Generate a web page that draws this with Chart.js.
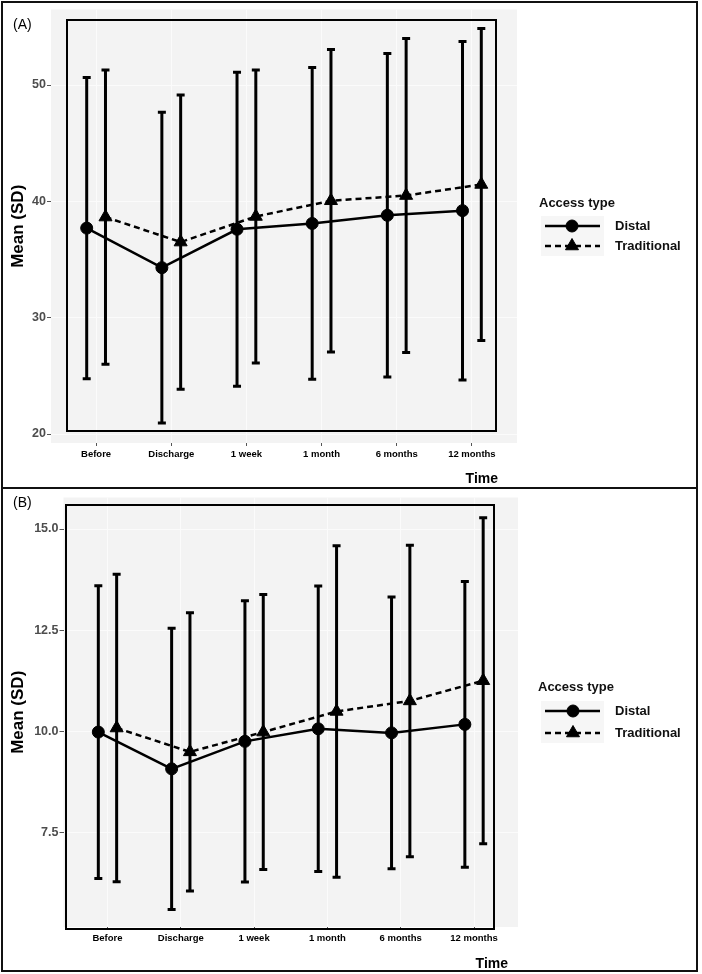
<!DOCTYPE html>
<html>
<head>
<meta charset="utf-8">
<title>Access type - mean (SD) over time</title>
<script src="https://cdn.jsdelivr.net/npm/chart.js@4"></script>
<style>
  html, body { margin: 0; padding: 0; background: #fff; }
  #page { position: relative; width: 702px; height: 974px; overflow: hidden; }
  .panel { position: absolute; left: 0; width: 702px; }
  .frame { position: absolute; box-sizing: border-box; border: 2px solid #111; pointer-events: none; }
</style>
</head>
<body>
<div id="page">
  <div class="panel" style="top:0;height:489px"><canvas id="chartA" width="702" height="489"></canvas></div>
  <div class="panel" style="top:489px;height:485px"><canvas id="chartB" width="702" height="485"></canvas></div>
  <div class="frame" style="left:1px;top:1px;width:697px;height:488px"></div>
  <div class="frame" style="left:1px;top:487px;width:697px;height:485px"></div>
</div>

<script>
// x categories
const timePoints = ['Before', 'Discharge', '1 week', '1 month', '6 months', '12 months'];
const seriesNames = ['Distal', 'Traditional'];
const legendTitle = 'Access type';

// Panel A: mean and SD per time point
const distalMeanA = [37.7, 34.3, 37.6, 38.1, 38.8, 39.2];
const distalSdA   = [12.95, 13.35, 13.5, 13.4, 13.9, 14.55];
const tradMeanA   = [38.65, 36.5, 38.7, 40.05, 40.5, 41.45];
const tradSdA     = [12.65, 12.65, 12.6, 13.0, 13.5, 13.4];
const yTicksA     = [20, 30, 40, 50];

// Panel B
const distalMeanB = [9.98, 9.07, 9.75, 10.06, 9.96, 10.17];
const distalSdB   = [3.62, 3.48, 3.48, 3.53, 3.36, 3.53];
const tradMeanB   = [10.08, 9.49, 9.98, 10.49, 10.75, 11.25];
const tradSdB     = [3.8, 3.44, 3.4, 4.1, 3.85, 4.03];
const yTicksB     = [7.5, 10.0, 12.5, 15.0];

const dodge = 0.125;
const FONT = '"Liberation Sans", Arial, sans-serif';

function drawKey(ctx, x0, x1, xm, y, dashed, style, r) {
  ctx.save();
  ctx.strokeStyle = '#000';
  ctx.fillStyle = '#000';
  ctx.lineWidth = 2.5;
  if (dashed) ctx.setLineDash([6, 4]);
  ctx.beginPath();
  ctx.moveTo(x0, y);
  ctx.lineTo(x1, y);
  ctx.stroke();
  ctx.setLineDash([]);
  ctx.lineWidth = 1;
  Chart.helpers.drawPoint(ctx, { pointStyle: style, radius: r, borderWidth: 1, rotation: 0 }, xm, y);
  ctx.restore();
}

// grey panel, inner black frame, error bars, labels and legend
const panelPlugin = {
  id: 'panel',
  beforeDraw(chart, args, o) {
    const { ctx, chartArea: a } = chart;
    ctx.save();
    ctx.fillStyle = '#f3f3f3';
    ctx.fillRect(a.left, a.top, a.right - a.left, a.bottom - a.top);
    ctx.restore();
  },
  beforeDatasetsDraw(chart, args, o) {
    const { ctx } = chart;
    const xs = chart.scales.x, ys = chart.scales.y;
    ctx.save();
    ctx.strokeStyle = '#000';
    ctx.lineWidth = 2;
    ctx.strokeRect(o.box[0], o.box[1], o.box[2] - o.box[0], o.box[3] - o.box[1]);

    // error bars: mean +/- SD
    chart.data.datasets.forEach(ds => {
      ds.data.forEach((p, j) => {
        const x = xs.getPixelForValue(p.x);
        const hi = ys.getPixelForValue(p.y + ds.sd[j]);
        const lo = ys.getPixelForValue(p.y - ds.sd[j]);
        ctx.lineWidth = 3;
        ctx.beginPath();
        ctx.moveTo(x, hi);
        ctx.lineTo(x, lo);
        ctx.stroke();
        ctx.lineWidth = 3;
        ctx.beginPath();
        ctx.moveTo(x - 4, hi); ctx.lineTo(x + 4, hi);
        ctx.moveTo(x - 4, lo); ctx.lineTo(x + 4, lo);
        ctx.stroke();
      });
    });
    ctx.restore();
  },
  afterDraw(chart, args, o) {
    const { ctx } = chart;
    ctx.save();
    ctx.fillStyle = '#000';
    ctx.textBaseline = 'middle';

    // panel tag
    ctx.font = '14px ' + FONT;
    ctx.textAlign = 'left';
    ctx.fillText(o.tag, 13, o.tagY);

    // x axis title
    ctx.font = 'bold 14px ' + FONT;
    ctx.textAlign = 'right';
    ctx.fillText('Time', o.timeRight, o.timeY);

    // legend
    const L = o.legend;
    ctx.fillStyle = '#f6f6f6';
    ctx.fillRect(L.x0 - 4, L.rows[0] - 10, L.x1 - L.x0 + 8, L.rows[1] - L.rows[0] + 20);
    ctx.fillStyle = '#111';
    ctx.font = 'bold 13px ' + FONT;
    ctx.textAlign = 'left';
    ctx.fillText(legendTitle, L.titleX, L.titleY);
    drawKey(ctx, L.x0, L.x1, L.xm, L.rows[0], false, 'circle', 6);
    drawKey(ctx, L.x0, L.x1, L.xm, L.rows[1], true, 'triangle', 7.5);
    ctx.fillStyle = '#111';
    ctx.font = 'bold 13px ' + FONT;
    ctx.fillText(seriesNames[0], L.textX, L.rows[0]);
    ctx.fillText(seriesNames[1], L.textX, L.rows[1]);
    ctx.restore();
  }
};

function makeChart(id, cfg) {
  const datasets = [
    {
      label: seriesNames[0],
      data: timePoints.map((t, i) => ({ x: i + 1 - dodge, y: cfg.distalMean[i] })),
      sd: cfg.distalSd,
      borderColor: '#000',
      borderWidth: 2.5,
      pointStyle: 'circle',
      pointRadius: 6,
      pointBackgroundColor: '#000',
      pointBorderColor: '#000',
      pointBorderWidth: 1,
      fill: false,
      tension: 0
    },
    {
      label: seriesNames[1],
      data: timePoints.map((t, i) => ({ x: i + 1 + dodge, y: cfg.tradMean[i] })),
      sd: cfg.tradSd,
      borderColor: '#000',
      borderWidth: 2.5,
      borderDash: [6, 4],
      pointStyle: 'triangle',
      pointRadius: 7.5,
      pointBackgroundColor: '#000',
      pointBorderColor: '#000',
      pointBorderWidth: 1,
      fill: false,
      tension: 0
    }
  ];

  return new Chart(document.getElementById(id), {
    type: 'line',
    data: { datasets },
    plugins: [panelPlugin],
    options: {
      responsive: false,
      animation: false,
      layout: { padding: { top: cfg.padTop, right: cfg.padRight, bottom: 0, left: 0 } },
      plugins: {
        legend: { display: false },
        tooltip: { enabled: false },
        panel: cfg.panel
      },
      scales: {
        x: {
          type: 'linear',
          min: 0.4,
          max: 6.6,
          afterBuildTicks: s => { s.ticks = timePoints.map((t, i) => ({ value: i + 1 })); },
          afterFit: s => { s.height = cfg.xAxisHeight; },
          border: { display: false },
          grid: { color: '#fbfbfb', lineWidth: 1, tickLength: 3, tickColor: '#555' },
          ticks: {
            autoSkip: false,
            maxRotation: 0,
            padding: 3,
            color: '#000',
            font: { family: FONT, size: 9.5, weight: 'bold' },
            callback: v => timePoints[v - 1]
          }
        },
        y: {
          min: cfg.yMin,
          max: cfg.yMax,
          afterBuildTicks: s => { s.ticks = cfg.yTicks.map(v => ({ value: v })); },
          afterFit: s => { s.width = cfg.yAxisWidth; },
          border: { display: false },
          grid: { color: '#fbfbfb', lineWidth: 1, tickLength: 4, tickColor: '#555' },
          ticks: {
            padding: 1,
            color: '#4d4d4d',
            font: { family: FONT, size: 12.5, weight: 'bold' },
            callback: v => v.toFixed(cfg.digits)
          },
          title: {
            display: true,
            text: 'Mean (SD)',
            color: '#000',
            padding: { top: 8, bottom: 0 },
            font: { family: FONT, size: 17, weight: 'bold' }
          }
        }
      }
    }
  });
}

makeChart('chartA', {
  distalMean: distalMeanA, distalSd: distalSdA,
  tradMean: tradMeanA, tradSd: tradSdA,
  yMin: 19.23, yMax: 56.49, yTicks: yTicksA, digits: 0,
  padTop: 9.5, padRight: 185, yAxisWidth: 51, xAxisHeight: 46,
  panel: {
    box: [67, 20, 496, 431],
    tag: '(A)', tagY: 25,
    timeRight: 498, timeY: 479,
    legend: { titleX: 539, titleY: 203, rows: [226, 246], x0: 545, x1: 600, xm: 572, textX: 615 }
  }
});

makeChart('chartB', {
  distalMean: distalMeanB, distalSd: distalSdB,
  tradMean: tradMeanB, tradSd: tradSdB,
  yMin: 5.16, yMax: 15.78, yTicks: yTicksB, digits: 1,
  padTop: 6.5, padRight: 184, yAxisWidth: 63.5, xAxisHeight: 47,
  panel: {
    box: [66, 16, 494, 440],
    tag: '(B)', tagY: 14,
    timeRight: 508, timeY: 475,
    legend: { titleX: 538, titleY: 198, rows: [222, 244], x0: 545, x1: 600, xm: 573, textX: 615 }
  }
});
</script>
</body>
</html>
